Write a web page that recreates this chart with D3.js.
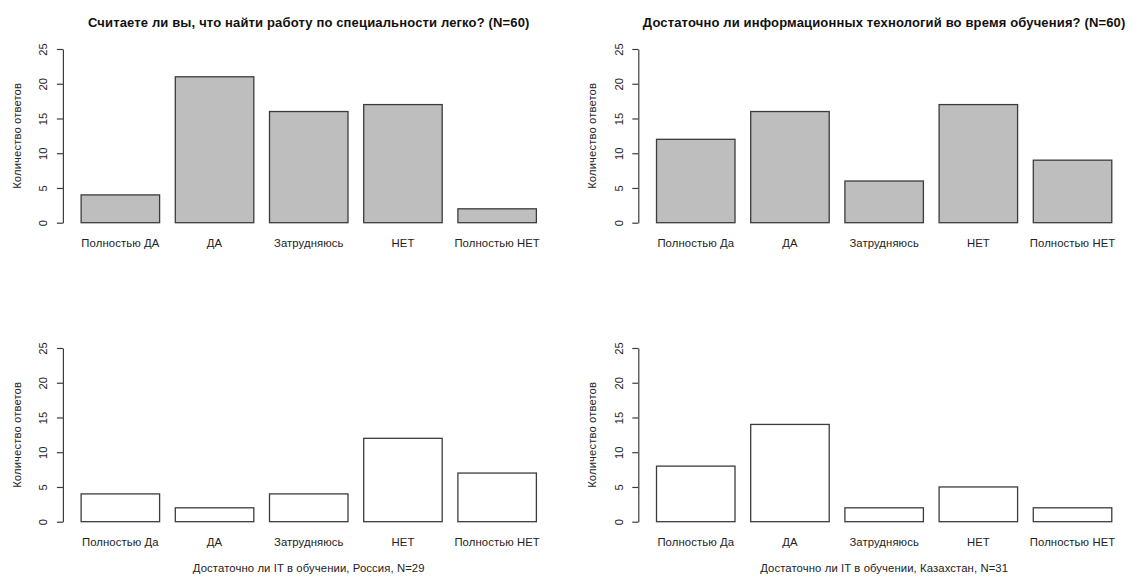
<!DOCTYPE html>
<html>
<head>
<meta charset="utf-8">
<script src="https://cdn.jsdelivr.net/npm/d3@7"></script>
<style>
  html, body { margin: 0; padding: 0; background: #fff; }
  svg { display: block; }
  text { font-family: "Liberation Sans", Arial, Helvetica, sans-serif; fill: #222; }
</style>
</head>
<body>
<svg id="chart" width="1137" height="577"></svg>
<script>
// Survey answers, one bar chart per question / subgroup
const catsA = ["Полностью ДА", "ДА", "Затрудняюсь", "НЕТ", "Полностью НЕТ"];
const catsB = ["Полностью Да", "ДА", "Затрудняюсь", "НЕТ", "Полностью НЕТ"];

const jobEasy      = [4, 21, 16, 17, 2];   // Считаете ли вы, что найти работу ... легко?
const itEnough     = [12, 16, 6, 17, 9];   // Достаточно ли ИТ во время обучения?
const itRussia     = [4, 2, 4, 12, 7];     // Россия, N=29
const itKazakhstan = [8, 14, 2, 5, 2];     // Казахстан, N=31

const yTicks = [0, 5, 10, 15, 20, 25];
const yLabel = "Количество ответов";

const panelTitles = [
  "Считаете ли вы, что найти работу по специальности легко? (N=60)",
  "Достаточно ли информационных технологий во время обучения? (N=60)",
  "",
  ""
];
const panelSubtitles = [
  "",
  "",
  "Достаточно ли IT в обучении, Россия, N=29",
  "Достаточно ли IT в обучении, Казахстан, N=31"
];

const panels = [
  { cats: catsA, values: jobEasy,      fill: "#bebebe", dx: 0,     dy: 0 },
  { cats: catsB, values: itEnough,     fill: "#bebebe", dx: 575.4, dy: 0 },
  { cats: catsB, values: itRussia,     fill: "#ffffff", dx: 0,     dy: 299 },
  { cats: catsB, values: itKazakhstan, fill: "#ffffff", dx: 575.4, dy: 299 }
].map((p, i) => Object.assign(p, { title: panelTitles[i], sub: panelSubtitles[i] }));

const svg = d3.select("#chart");

// Plot region of a single panel (before offsets)
const plotLeft = 62.9, plotRight = 554.6, plotTop = 49, plotBottom = 222.7;
const barWidth = 1, barSpace = 0.2;
const labelSize = "11.3px";

panels.forEach(p => {
  const g = svg.append("g").attr("transform", `translate(${p.dx},${p.dy})`);

  // Bar positions in barplot units: bar i spans [0.2 + 1.2 i, 1.2 + 1.2 i]
  const n = p.values.length;
  const span = n * (barWidth + barSpace);
  const pad = 0.04 * (span - barSpace);
  const x = d3.scaleLinear()
    .domain([barSpace - pad, span + pad])
    .range([plotLeft, plotRight]);
  const y = d3.scaleLinear().domain([0, 25]).range([plotBottom, plotTop]);

  const left = i => barSpace + i * (barWidth + barSpace);

  g.selectAll("rect.bar")
    .data(p.values)
    .enter().append("rect")
    .attr("class", "bar")
    .attr("x", (d, i) => x(left(i)))
    .attr("width", (d, i) => x(left(i) + barWidth) - x(left(i)))
    .attr("y", d => y(d))
    .attr("height", d => y(0) - y(d))
    .attr("fill", p.fill)
    .attr("stroke", "#3c3c3c")
    .attr("stroke-width", 1.3);

  // Category labels under the bars
  g.selectAll("text.cat")
    .data(p.cats)
    .enter().append("text")
    .attr("class", "cat")
    .attr("x", (d, i) => x(left(i) + barWidth / 2))
    .attr("y", 247)
    .attr("text-anchor", "middle")
    .style("font-size", labelSize)
    .style("letter-spacing", "0.1px")
    .text(d => d);

  // Y axis with rotated tick labels
  const axis = g.append("g")
    .attr("transform", `translate(${plotLeft},0)`)
    .call(d3.axisLeft(y).tickValues(yTicks).tickSize(6).tickSizeOuter(0).tickPadding(0));
  axis.select(".domain").attr("stroke", "#3c3c3c").attr("stroke-width", 1.2);
  axis.selectAll(".tick line").attr("stroke", "#3c3c3c").attr("stroke-width", 1.2);
  axis.selectAll(".tick text")
    .attr("transform", "rotate(-90)")
    .attr("x", 0)
    .attr("y", -15.5)
    .attr("dy", 0)
    .attr("text-anchor", "middle")
    .style("font-family", "'Liberation Sans', Arial, sans-serif")
    .style("font-size", labelSize)
    .style("fill", "#222");

  // Y axis title
  g.append("text")
    .attr("transform", `translate(21,${(plotTop + plotBottom) / 2}) rotate(-90)`)
    .attr("text-anchor", "middle")
    .style("font-size", labelSize)
    .style("letter-spacing", "0.1px")
    .text(yLabel);

  if (p.title) {
    g.append("text")
      .attr("x", (plotLeft + plotRight) / 2)
      .attr("y", 27)
      .attr("text-anchor", "middle")
      .style("font-size", "13px")
      .style("font-weight", "bold")
      .style("letter-spacing", "0.15px")
      .style("fill", "#111")
      .text(p.title);
  }
  if (p.sub) {
    g.append("text")
      .attr("x", (plotLeft + plotRight) / 2)
      .attr("y", 273)
      .attr("text-anchor", "middle")
      .style("font-size", labelSize)
      .style("letter-spacing", "0.1px")
      .text(p.sub);
  }
});
</script>
</body>
</html>
